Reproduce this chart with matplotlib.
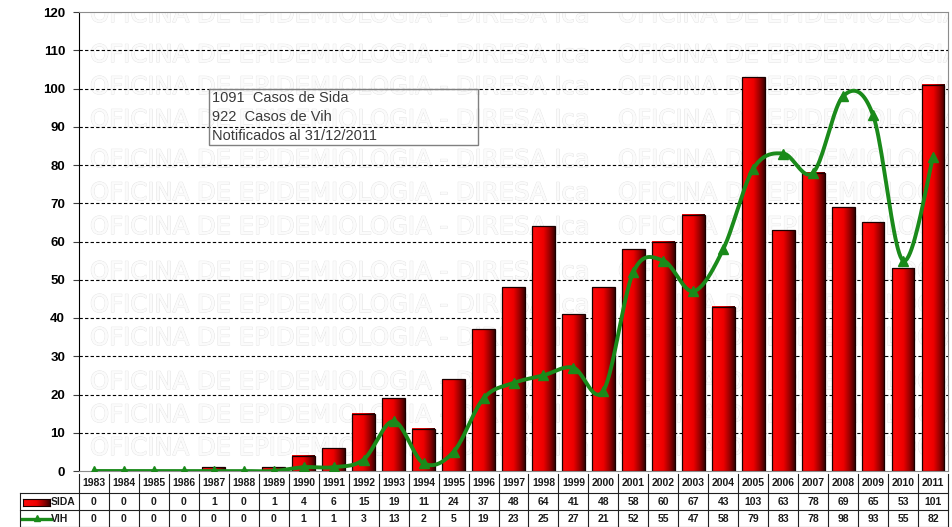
import matplotlib
matplotlib.use("Agg")
import matplotlib.pyplot as plt
import matplotlib.patheffects as pe
import numpy as np
from matplotlib.colors import LinearSegmentedColormap
from matplotlib.patches import Rectangle
from matplotlib.lines import Line2D
from matplotlib.transforms import blended_transform_factory

years = ["1983", "1984", "1985", "1986", "1987", "1988", "1989", "1990", "1991", "1992",
         "1993", "1994", "1995", "1996", "1997", "1998", "1999", "2000", "2001", "2002",
         "2003", "2004", "2005", "2006", "2007", "2008", "2009", "2010", "2011"]
sida = [0, 0, 0, 0, 1, 0, 1, 4, 6, 15, 19, 11, 24, 37, 48, 64, 41, 48, 58, 60,
        67, 43, 103, 63, 78, 69, 65, 53, 101]
vih = [0, 0, 0, 0, 0, 0, 0, 1, 1, 3, 13, 2, 5, 19, 23, 25, 27, 21, 52, 55,
       47, 58, 79, 83, 78, 98, 93, 55, 82]
box_lines = ["1091  Casos de Sida", "922  Casos de Vih", "Notificados al 31/12/2011"]
watermark = "OFICINA DE EPIDEMIOLOGIA - DIRESA Ica"

W, H = 952, 527
FONT = "Liberation Sans"
GREEN = "#1a8a1a"
bar_cmap = LinearSegmentedColormap.from_list(
    "sida", [(0, "#ff0a0a"), (0.5, "#ee0000"), (0.82, "#8a0000"), (1, "#3a0000")])
grad = np.linspace(0, 1, 64).reshape(1, -1)


def fy(py):
    return 1 - py / H


def fx(px):
    return px / W


def smooth(xs, ys, n=24):
    # Bezier tipo Excel (Catmull-Rom) para la linea suavizada
    pts = np.column_stack([xs, ys]).astype(float)
    P = np.vstack([pts[0], pts, pts[-1]])
    out = []
    for i in range(1, len(P) - 2):
        p0, p1, p2, p3 = P[i - 1], P[i], P[i + 1], P[i + 2]
        c1 = p1 + (p2 - p0) / 6
        c2 = p2 - (p3 - p1) / 6
        t = np.linspace(0, 1, n)[:, None]
        out.append((1 - t) ** 3 * p1 + 3 * (1 - t) ** 2 * t * c1
                   + 3 * (1 - t) * t ** 2 * c2 + t ** 3 * p2)
    return np.vstack(out)


fig = plt.figure(figsize=(W / 100, H / 100), dpi=100)
left, right, top, bottom = 79, 948, 12, 471
ax = fig.add_axes([fx(left), fy(bottom), fx(right) - fx(left), fy(top) - fy(bottom)])

x = np.arange(len(years))

# marca de agua
for py in [15, 55, 87, 120, 160, 193, 227, 272, 305, 338, 382, 415, 448]:
    for px in [90, 618]:
        t = ax.text((px - left) / (right - left), (bottom - py) / (bottom - top), watermark,
                    transform=ax.transAxes, ha="left", va="center", fontsize=17.5,
                    family="DejaVu Sans", color="#fbfbfb", zorder=0, clip_on=True)
        t.set_path_effects([pe.withStroke(linewidth=0.8, foreground="#e4e4e4"), pe.Normal()])

for yv in range(10, 120, 10):
    ax.axhline(yv, color="black", lw=0.8, ls=(0, (3, 2)), zorder=1)

# barras con degradado
bw = 0.76
for xi, v in zip(x, sida):
    if v <= 0:
        continue
    ax.imshow(grad, cmap=bar_cmap, aspect="auto", extent=(xi - bw / 2, xi + bw / 2, 0, v),
              zorder=2, interpolation="bilinear")
    ax.add_patch(Rectangle((xi - bw / 2, 0), bw, v, fill=False, ec="#1a0000", lw=0.9, zorder=3))
ax.set_xlim(-0.5, len(years) - 0.5)
ax.set_ylim(0, 120)

curve = smooth(x, vih)
ax.plot(curve[:, 0], curve[:, 1], color=GREEN, lw=2.8, zorder=4, solid_capstyle="round")
ax.plot(x, vih, ls="none", marker="^", ms=7, color=GREEN, zorder=5)

ax.set_yticks(range(0, 121, 10))
ax.set_xticks([])
for lab in ax.get_yticklabels():
    lab.set_fontweight("bold")
    lab.set_family(FONT)
    lab.set_fontsize(9.5)
ax.tick_params(axis="y", length=4, width=0.8, pad=6, color="#404040")
ax.spines["left"].set_color("black")
for s in ["top", "right", "bottom"]:
    ax.spines[s].set_color("#8c8c8c")

# cuadro de texto
bx0, bx1, by0, by1 = 209, 478, 89, 145
ax.add_patch(Rectangle((fx(bx0), fy(by1)), fx(bx1) - fx(bx0), fy(by0) - fy(by1),
                       transform=fig.transFigure, fill=False, ec="#808080", lw=1, zorder=6))
for py, s in zip([98, 117, 136], box_lines):
    fig.text(fx(212), fy(py), s, ha="left", va="center", fontsize=10.5, family=FONT,
             color="#3a3a3a", zorder=7)

# tabla de datos
tr = blended_transform_factory(ax.transData, fig.transFigure)
kw = dict(color="#202020", lw=0.8, transform=tr, clip_on=False)
for i in range(len(years) + 1):
    fig.add_artist(Line2D([i - 0.5, i - 0.5], [fy(474), fy(527)], **kw))
fig.add_artist(Line2D([fx(20), fx(20)], [fy(493), fy(527)], color="#202020", lw=0.8,
                      transform=fig.transFigure))
for py in [493, 510, 526.5]:
    fig.add_artist(Line2D([fx(20), fx(948)], [fy(py), fy(py)], color="#202020", lw=0.8,
                          transform=fig.transFigure))
tkw = dict(ha="center", va="center", fontsize=7.5, fontweight="bold", family=FONT,
           transform=tr, color="#1a1a1a")
for i in range(len(years)):
    fig.text(x[i], fy(483), years[i], **tkw)
    fig.text(x[i], fy(502), str(sida[i]), **tkw)
    fig.text(x[i], fy(519), str(vih[i]), **tkw)

# leyenda en la tabla
sw = fig.add_axes([fx(23), fy(506), fx(50) - fx(23), fy(499) - fy(506)])
sw.imshow(grad, cmap=bar_cmap, aspect="auto", interpolation="bilinear")
sw.set_xticks([])
sw.set_yticks([])
for s in sw.spines.values():
    s.set_color("#1a0000")
    s.set_linewidth(0.8)
fig.text(fx(51), fy(502), "SIDA", ha="left", va="center", fontsize=7.5, fontweight="bold",
         family=FONT, color="#1a1a1a")
fig.add_artist(Line2D([fx(22), fx(51)], [fy(519), fy(519)], color=GREEN, lw=2.4,
                      transform=fig.transFigure))
fig.add_artist(Line2D([fx(37)], [fy(518)], color=GREEN, marker="^", ms=5,
                      transform=fig.transFigure))
fig.text(fx(51), fy(519), "VIH", ha="left", va="center", fontsize=7.5, fontweight="bold",
         family=FONT, color="#1a1a1a")

fig.savefig("out.png", dpi=100)
